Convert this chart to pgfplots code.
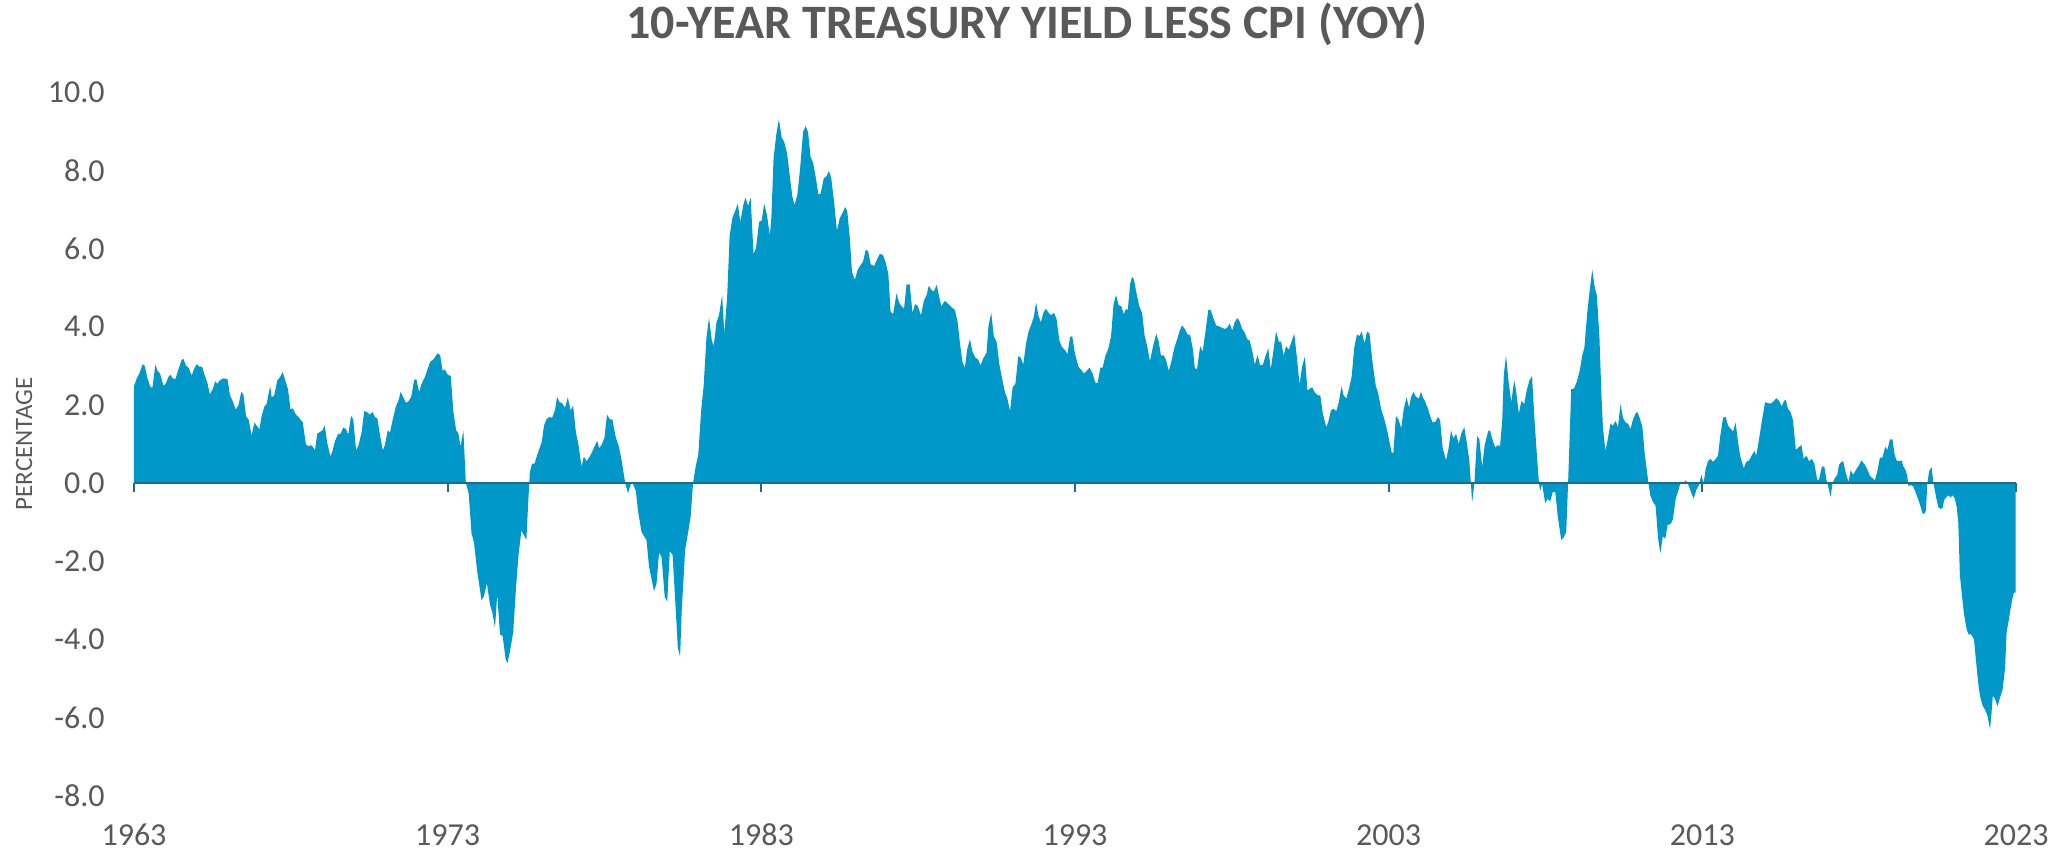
\documentclass[border=0pt]{standalone}
\usepackage{fontspec}
\setmainfont{Carlito}
\usepackage{pgfplots}
\pgfplotsset{compat=1.18}
\definecolor{areablue}{HTML}{0098C9}
\definecolor{zeroline}{HTML}{1F6B88}
\definecolor{txtgray}{HTML}{595959}
\begin{document}
\begin{tikzpicture}
\useasboundingbox (-67pt,-28pt) rectangle (965pt,398pt);
\begin{axis}[
  at={(0,0)}, anchor=south west,
  scale only axis, width=941pt, height=352pt,
  xmin=1963, xmax=2023, ymin=-8, ymax=10,
  axis line style={draw=none},
  tick style={draw=none},
  xtick={1963,1973,1983,1993,2003,2013,2023},
  xticklabels={1963,1973,1983,1993,2003,2013,2023},
  ytick={-8,-6,-4,-2,0,2,4,6,8,10},
  yticklabels={-8.0,-6.0,-4.0,-2.0,0.0,2.0,4.0,6.0,8.0,10.0},
  xtick pos=bottom, ytick pos=left,
  /pgf/number format/assume math mode=true,
  ticklabel style={font=\fontsize{16}{19}\selectfont, text=txtgray},
  xticklabel style={anchor=center, inner sep=0pt, yshift=-19.5pt},
  yticklabel style={anchor=east, inner sep=0pt, xshift=-14.5pt},
  ylabel={PERCENTAGE},
  every axis y label/.style={at={(axis description cs:-0.05845,0.5)}, anchor=center, rotate=90, font=\fontsize{12.5}{15}\selectfont, text=txtgray},
  title={10-YEAR TREASURY YIELD LESS CPI (YOY)},
  title style={at={(axis description cs:0.4743,1)}, anchor=center, yshift=28pt, font=\bfseries\fontsize{24}{28}\selectfont, text=txtgray},
  clip=false,
]
\addplot[fill=areablue, draw=none] table {
x y
1963.00 0
1963.00 2.48
1963.09 2.68
1963.17 2.80
1963.28 3.04
1963.34 3.00
1963.43 2.68
1963.53 2.45
1963.59 2.45
1963.68 3.03
1963.75 2.87
1963.83 2.80
1963.94 2.49
1964.01 2.54
1964.10 2.72
1964.17 2.77
1964.23 2.68
1964.32 2.66
1964.41 2.89
1964.52 3.15
1964.57 3.18
1964.66 3.00
1964.74 2.95
1964.84 2.75
1964.91 2.91
1965.00 3.04
1965.08 2.98
1965.17 2.98
1965.25 2.77
1965.34 2.56
1965.42 2.27
1965.51 2.40
1965.59 2.60
1965.66 2.54
1965.74 2.63
1965.85 2.68
1965.98 2.66
1966.06 2.25
1966.17 2.05
1966.24 1.88
1966.33 1.99
1966.42 2.33
1966.49 2.26
1966.57 1.72
1966.66 1.61
1966.75 1.22
1966.84 1.55
1966.91 1.47
1967.00 1.38
1967.07 1.72
1967.16 1.96
1967.23 2.03
1967.34 2.48
1967.39 2.19
1967.47 2.24
1967.57 2.63
1967.65 2.70
1967.74 2.84
1967.82 2.63
1967.91 2.40
1967.99 1.89
1968.06 1.91
1968.15 1.77
1968.26 1.67
1968.38 1.55
1968.48 0.99
1968.57 0.94
1968.64 0.97
1968.72 0.91
1968.77 0.84
1968.84 1.26
1968.93 1.31
1969.01 1.35
1969.08 1.47
1969.16 1.03
1969.26 0.68
1969.33 0.82
1969.41 1.08
1969.51 1.26
1969.59 1.26
1969.67 1.42
1969.76 1.38
1969.83 1.24
1969.92 1.72
1969.99 1.63
1970.08 0.84
1970.16 0.97
1970.26 1.32
1970.34 1.84
1970.44 1.81
1970.52 1.75
1970.60 1.82
1970.68 1.69
1970.76 1.65
1970.84 1.24
1970.93 0.84
1971.00 0.97
1971.09 1.35
1971.16 1.29
1971.25 1.63
1971.35 1.96
1971.44 2.13
1971.50 2.33
1971.59 2.19
1971.67 2.05
1971.76 2.10
1971.84 2.21
1971.93 2.63
1972.00 2.66
1972.09 2.33
1972.17 2.54
1972.28 2.72
1972.35 2.89
1972.44 3.10
1972.54 3.16
1972.61 3.24
1972.68 3.32
1972.76 3.27
1972.84 2.87
1972.91 2.91
1973.00 2.77
1973.10 2.74
1973.18 1.84
1973.27 1.35
1973.34 1.28
1973.41 0.93
1973.50 1.35
1973.58 0.00
1973.67 -0.26
1973.76 -1.28
1973.84 -1.52
1973.94 -2.24
1974.08 -3.00
1974.16 -2.88
1974.25 -2.56
1974.35 -3.11
1974.42 -3.29
1974.51 -3.69
1974.58 -2.84
1974.67 -3.87
1974.75 -3.90
1974.85 -4.51
1974.91 -4.60
1974.99 -4.28
1975.09 -3.81
1975.18 -2.65
1975.26 -1.83
1975.35 -1.21
1975.43 -1.33
1975.51 -1.45
1975.56 -0.61
1975.62 0.27
1975.69 0.50
1975.77 0.50
1975.86 0.73
1975.92 0.87
1976.00 1.05
1976.07 1.47
1976.15 1.63
1976.24 1.69
1976.33 1.67
1976.42 1.86
1976.49 2.21
1976.56 2.07
1976.64 2.05
1976.74 1.93
1976.83 2.19
1976.92 1.86
1977.00 1.98
1977.09 1.28
1977.16 1.03
1977.27 0.42
1977.34 0.68
1977.43 0.56
1977.53 0.68
1977.62 0.82
1977.70 0.97
1977.77 1.08
1977.83 0.89
1977.92 1.00
1978.00 1.17
1978.08 1.75
1978.17 1.63
1978.25 1.63
1978.35 1.20
1978.46 0.93
1978.55 0.56
1978.66 0.00
1978.75 -0.26
1978.84 -0.02
1978.91 -0.02
1979.00 -0.20
1979.07 -0.72
1979.18 -1.25
1979.34 -1.46
1979.42 -2.14
1979.58 -2.76
1979.66 -2.56
1979.74 -1.77
1979.82 -1.89
1979.92 -2.91
1980.00 -3.03
1980.08 -1.75
1980.17 -1.83
1980.25 -2.94
1980.34 -4.22
1980.41 -4.43
1980.46 -3.29
1980.57 -1.71
1980.68 -1.19
1980.75 -0.84
1980.82 -0.02
1980.91 0.44
1980.99 0.73
1981.08 1.84
1981.16 2.48
1981.25 3.71
1981.33 4.23
1981.42 3.65
1981.48 3.50
1981.57 4.11
1981.65 4.29
1981.75 4.81
1981.82 3.82
1981.91 4.76
1981.99 6.33
1982.08 6.79
1982.16 6.95
1982.25 7.14
1982.33 6.68
1982.42 7.09
1982.49 7.30
1982.58 7.09
1982.66 7.30
1982.75 5.86
1982.83 6.01
1982.93 6.68
1983.01 6.71
1983.09 7.14
1983.18 6.85
1983.27 6.33
1983.32 6.79
1983.39 8.31
1983.48 8.93
1983.56 9.30
1983.65 8.83
1983.73 8.72
1983.82 8.43
1983.90 7.90
1983.99 7.32
1984.06 7.11
1984.15 7.38
1984.24 8.08
1984.33 8.97
1984.41 9.13
1984.49 8.97
1984.57 8.34
1984.65 8.19
1984.73 7.84
1984.82 7.38
1984.89 7.40
1984.99 7.79
1985.07 7.84
1985.16 7.98
1985.23 7.79
1985.32 7.18
1985.41 6.45
1985.50 6.77
1985.59 6.91
1985.67 7.06
1985.74 6.95
1985.82 6.27
1985.89 5.40
1985.98 5.20
1986.07 5.45
1986.16 5.57
1986.24 5.66
1986.33 5.96
1986.40 5.94
1986.49 5.59
1986.60 5.55
1986.69 5.72
1986.78 5.86
1986.88 5.83
1986.97 5.63
1987.05 5.34
1987.12 4.38
1987.20 4.32
1987.31 4.85
1987.39 4.62
1987.47 4.52
1987.55 4.46
1987.63 5.08
1987.73 5.08
1987.82 4.35
1987.90 4.58
1987.99 4.52
1988.09 4.29
1988.18 4.66
1988.27 4.81
1988.34 5.05
1988.43 4.93
1988.50 4.90
1988.59 5.07
1988.67 4.76
1988.74 4.52
1988.85 4.66
1988.96 4.58
1989.06 4.50
1989.17 4.43
1989.26 4.11
1989.33 3.59
1989.41 3.10
1989.49 2.95
1989.56 3.41
1989.65 3.68
1989.73 3.36
1989.82 3.21
1989.91 3.16
1989.99 3.01
1990.07 3.18
1990.18 3.33
1990.24 4.00
1990.33 4.35
1990.41 3.76
1990.50 3.61
1990.59 3.03
1990.68 2.66
1990.77 2.31
1990.84 2.17
1990.93 1.84
1991.01 2.45
1991.10 2.54
1991.19 3.24
1991.27 3.21
1991.35 3.03
1991.44 3.57
1991.52 3.88
1991.61 4.06
1991.69 4.27
1991.76 4.62
1991.83 4.29
1991.91 4.11
1991.99 4.35
1992.07 4.46
1992.16 4.35
1992.24 4.29
1992.33 4.35
1992.41 4.20
1992.50 3.65
1992.59 3.47
1992.67 3.41
1992.76 3.30
1992.84 3.73
1992.91 3.76
1993.00 3.30
1993.11 2.98
1993.18 2.91
1993.29 2.80
1993.37 2.87
1993.46 2.95
1993.49 2.91
1993.56 2.80
1993.65 2.56
1993.72 2.56
1993.81 2.95
1993.88 2.95
1993.97 3.26
1994.07 3.45
1994.15 3.76
1994.23 4.58
1994.31 4.81
1994.39 4.55
1994.48 4.52
1994.55 4.32
1994.63 4.46
1994.68 4.41
1994.76 5.10
1994.82 5.28
1994.88 5.20
1994.97 4.81
1995.05 4.52
1995.14 4.35
1995.22 3.76
1995.31 3.47
1995.39 3.12
1995.48 3.47
1995.59 3.82
1995.67 3.61
1995.74 3.26
1995.83 3.27
1995.90 3.15
1995.99 2.87
1996.07 3.10
1996.17 3.47
1996.26 3.68
1996.33 3.88
1996.41 4.03
1996.50 3.94
1996.59 3.80
1996.67 3.79
1996.76 3.41
1996.82 2.94
1996.89 2.91
1996.99 3.50
1997.07 3.36
1997.16 3.88
1997.25 4.43
1997.32 4.43
1997.42 4.20
1997.50 4.03
1997.61 4.00
1997.69 3.97
1997.78 3.94
1997.85 3.97
1997.93 4.08
1998.01 3.90
1998.09 4.11
1998.17 4.22
1998.24 4.15
1998.33 3.94
1998.41 3.85
1998.49 3.68
1998.57 3.64
1998.65 3.38
1998.73 3.03
1998.82 3.27
1998.90 3.01
1998.99 3.03
1999.07 3.24
1999.16 3.45
1999.24 2.91
1999.33 3.41
1999.41 3.88
1999.50 3.61
1999.57 3.62
1999.65 3.26
1999.73 3.50
1999.82 3.41
1999.90 3.61
1999.99 3.82
2000.07 3.24
2000.16 2.52
2000.24 2.98
2000.33 3.24
2000.41 2.37
2000.50 2.42
2000.56 2.45
2000.65 2.31
2000.73 2.25
2000.82 2.24
2000.90 1.78
2001.01 1.43
2001.07 1.55
2001.16 1.86
2001.24 1.90
2001.33 1.84
2001.41 2.07
2001.50 2.48
2001.56 2.25
2001.65 2.16
2001.73 2.40
2001.82 2.72
2001.90 3.45
2001.99 3.80
2002.07 3.76
2002.14 3.88
2002.23 3.57
2002.31 3.88
2002.39 3.82
2002.48 3.12
2002.59 2.48
2002.66 2.31
2002.77 1.86
2002.85 1.67
2002.95 1.35
2003.03 1.03
2003.10 0.77
2003.15 0.77
2003.23 1.72
2003.31 1.63
2003.40 1.40
2003.48 1.90
2003.57 2.19
2003.65 1.93
2003.71 2.19
2003.79 2.33
2003.87 2.21
2003.96 2.16
2004.03 2.33
2004.09 2.19
2004.17 2.07
2004.24 1.93
2004.32 1.72
2004.40 1.55
2004.49 1.57
2004.57 1.69
2004.64 1.61
2004.72 0.91
2004.83 0.58
2004.91 0.89
2004.99 1.35
2005.06 1.14
2005.15 1.26
2005.23 1.00
2005.32 1.28
2005.41 1.43
2005.49 1.03
2005.57 0.58
2005.62 0.00
2005.66 -0.49
2005.73 -0.02
2005.82 1.20
2005.89 1.12
2005.98 0.42
2006.06 0.97
2006.17 1.32
2006.23 1.35
2006.32 1.08
2006.40 0.91
2006.48 0.97
2006.55 0.94
2006.62 1.61
2006.67 2.77
2006.74 3.26
2006.83 2.54
2006.91 2.07
2007.00 2.63
2007.06 2.37
2007.15 1.78
2007.23 2.10
2007.32 2.02
2007.40 2.37
2007.49 2.63
2007.57 2.74
2007.65 1.61
2007.72 0.77
2007.79 0.00
2007.83 -0.20
2007.89 -0.02
2007.99 -0.51
2008.07 -0.40
2008.15 -0.47
2008.23 -0.23
2008.31 -0.22
2008.39 -0.84
2008.50 -1.45
2008.57 -1.40
2008.66 -1.25
2008.72 0.00
2008.82 2.40
2008.91 2.42
2009.00 2.60
2009.09 2.87
2009.17 3.26
2009.24 3.47
2009.33 4.35
2009.40 4.87
2009.49 5.45
2009.56 5.05
2009.64 4.78
2009.72 3.71
2009.78 2.31
2009.83 1.43
2009.91 0.82
2009.99 1.14
2010.07 1.52
2010.15 1.47
2010.23 1.59
2010.31 1.43
2010.39 2.02
2010.47 1.67
2010.55 1.55
2010.63 1.52
2010.71 1.38
2010.79 1.63
2010.87 1.78
2010.93 1.82
2011.00 1.67
2011.09 1.43
2011.16 0.77
2011.23 0.33
2011.28 0.00
2011.34 -0.31
2011.43 -0.49
2011.51 -0.58
2011.59 -1.42
2011.66 -1.79
2011.74 -1.36
2011.82 -1.42
2011.89 -1.07
2011.98 -1.05
2012.06 -0.93
2012.15 -0.40
2012.23 -0.20
2012.31 0.03
2012.38 0.00
2012.47 0.07
2012.54 -0.02
2012.64 -0.23
2012.72 -0.40
2012.81 -0.17
2012.89 -0.05
2012.97 0.21
2013.04 0.00
2013.11 0.38
2013.18 0.56
2013.26 0.62
2013.34 0.54
2013.43 0.62
2013.50 0.70
2013.57 1.20
2013.66 1.67
2013.74 1.70
2013.82 1.47
2013.89 1.40
2013.98 1.32
2014.06 1.55
2014.14 1.03
2014.21 0.68
2014.32 0.38
2014.40 0.54
2014.49 0.58
2014.57 0.70
2014.66 0.82
2014.72 0.70
2014.81 1.14
2014.89 1.55
2015.00 2.07
2015.10 2.04
2015.20 2.04
2015.28 2.10
2015.36 2.17
2015.45 2.10
2015.53 1.96
2015.60 2.10
2015.66 2.13
2015.73 1.90
2015.81 1.82
2015.89 1.61
2015.98 0.85
2016.09 0.93
2016.16 0.97
2016.23 0.62
2016.32 0.70
2016.40 0.56
2016.49 0.62
2016.57 0.50
2016.66 0.09
2016.72 0.09
2016.81 0.42
2016.89 0.42
2016.96 0.07
2017.01 -0.08
2017.09 -0.35
2017.15 0.00
2017.22 0.12
2017.30 0.21
2017.36 0.47
2017.43 0.54
2017.49 0.56
2017.57 0.27
2017.66 0.03
2017.73 0.33
2017.81 0.21
2017.89 0.33
2017.98 0.44
2018.07 0.58
2018.18 0.47
2018.27 0.33
2018.34 0.19
2018.43 0.12
2018.50 0.07
2018.57 0.27
2018.66 0.65
2018.74 0.65
2018.83 0.93
2018.90 0.85
2018.98 1.12
2019.06 1.12
2019.13 0.73
2019.19 0.58
2019.28 0.56
2019.35 0.58
2019.40 0.44
2019.48 0.33
2019.53 0.19
2019.57 -0.08
2019.64 -0.05
2019.72 -0.08
2019.81 -0.26
2019.89 -0.43
2019.96 -0.61
2020.01 -0.75
2020.06 -0.80
2020.13 -0.70
2020.17 -0.02
2020.23 0.30
2020.31 0.41
2020.36 0.03
2020.45 -0.35
2020.52 -0.61
2020.60 -0.66
2020.66 -0.63
2020.71 -0.43
2020.79 -0.35
2020.85 -0.31
2020.91 -0.37
2020.98 -0.31
2021.05 -0.40
2021.11 -0.61
2021.16 -1.01
2021.21 -2.35
2021.27 -2.82
2021.34 -3.34
2021.43 -3.75
2021.49 -3.87
2021.57 -3.87
2021.66 -3.99
2021.72 -4.51
2021.80 -5.15
2021.85 -5.44
2021.93 -5.68
2022.01 -5.79
2022.09 -5.94
2022.17 -6.29
2022.21 -5.97
2022.26 -5.44
2022.33 -5.52
2022.41 -5.71
2022.49 -5.48
2022.57 -5.29
2022.65 -4.74
2022.70 -3.81
2022.79 -3.40
2022.86 -3.05
2022.93 -2.80
2022.99 -2.80
2022.99 0
};
\addplot[zeroline, line width=1pt] coordinates {(1963,0) (2023,0)};
\addplot[zeroline, line width=1pt, ycomb] coordinates {(1963,-0.22) (1973,-0.22) (1983,-0.22) (1993,-0.22) (2003,-0.22) (2013,-0.22) (2023,-0.22)};
\end{axis}
\end{tikzpicture}
\end{document}
